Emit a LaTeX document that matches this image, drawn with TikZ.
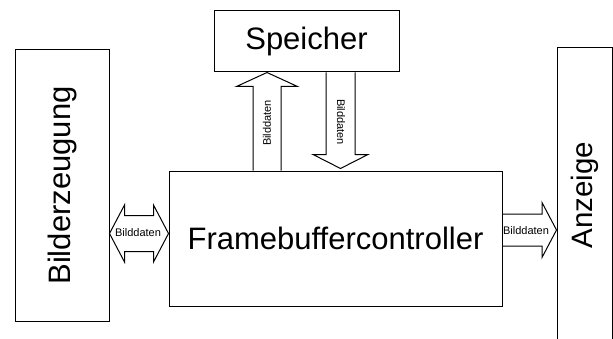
\documentclass[tikz,border=0pt]{standalone}
\usepackage{fontspec}
\setmainfont{Liberation Sans}
\usepackage{tikz}
\usetikzlibrary{shapes, arrows, arrows.meta}

\begin{document}
\begin{tikzpicture}[
    x=1pt, y=1pt,
    line width=1pt,
    bigText/.style={font=\fontsize{31}{31}\selectfont},
    smallText/.style={font=\fontsize{11}{11}\selectfont, inner sep=0pt},
    every node/.style={
        text centered,
        }
        ]
    \useasboundingbox (0, 0) rectangle (613, 338);

    \node[draw, bigText, minimum width=94pt, minimum height=271pt] (gen) at (62, 152.5) {\rotatebox{90}{Bilderzeugung}};
    \node[draw, bigText, minimum width=185pt, minimum height=61pt] (mem) at (306.5, 296.5) {Speicher};
    \node[draw, bigText, minimum width=333pt, minimum height=135pt] (fbc) at (335.5, 99.5) {Framebuffercontroller};
    \node[draw, font=\fontsize{29.5}{29.5}\selectfont, minimum width=55pt, minimum height=294pt] (disp) at (584.5, 143) {\rotatebox{90}{Anzeige}};

    \coordinate (upTail) at (267, 0 |- fbc.north);
    \coordinate (upTip) at (267, 0 |- mem.south);
    \coordinate (downTail) at (340.5, 0 |- mem.south);
    \coordinate[yshift=2pt] (downTip) at (340.5, 0 |- fbc.north);
    \coordinate (leftTipL) at (gen.east |- 0, 104.5);
    \coordinate (leftTipR) at (fbc.west |- 0, 104.5);
    \coordinate (rightTail) at (fbc.east |- 0, 108);
    \coordinate (rightTip) at (disp.west |- 0, 108);

    % Speicher <-> Framebuffercontroller
    \draw ([xshift=-14pt]upTail) |- ([xshift=-30.5pt, yshift=-14pt]upTip) -- (upTip) -- ([xshift=30.5pt, yshift=-14pt]upTip) -| ([xshift=14pt]upTail);
    \draw ([xshift=-14.5pt]downTail) |- ([xshift=-27.5pt, yshift=14pt]downTip) -- (downTip) -- ([xshift=27.5pt, yshift=14pt]downTip) -| ([xshift=14.5pt]downTail);
    \node[smallText, rotate=90] (upLabel) at (267, 215) {Bilddaten};
    \node[smallText, rotate=-90] (downLabel) at (341, 216) {Bilddaten};

    % Bilderzeugung <-> Framebuffercontroller
    \draw (leftTipL) -- ([xshift=15pt, yshift=28.5pt]leftTipL) |- ([xshift=-15pt, yshift=18pt]leftTipR) -- ([xshift=-15pt, yshift=28.5pt]leftTipR) -- (leftTipR) -- ([xshift=-15pt, yshift=-28.5pt]leftTipR) |- ([xshift=15pt, yshift=-18pt]leftTipL) -- ([xshift=15pt, yshift=-28.5pt]leftTipL) -- cycle;
    \node[smallText] (leftLabel) at (138, 105) {Bilddaten};

    % Framebuffercontroller -> Anzeige
    \draw ([yshift=16pt]rightTail) -- ([xshift=-14.5pt, yshift=16pt]rightTip) -- ([xshift=-14.5pt, yshift=27.5pt]rightTip) -- (rightTip) -- ([xshift=-14.5pt, yshift=-27.5pt]rightTip) -- ([xshift=-14.5pt, yshift=-16pt]rightTip) -- ([yshift=-16pt]rightTail);
    \node[smallText] (rightLabel) at (526, 107) {Bilddaten};
\end{tikzpicture}
\end{document}
